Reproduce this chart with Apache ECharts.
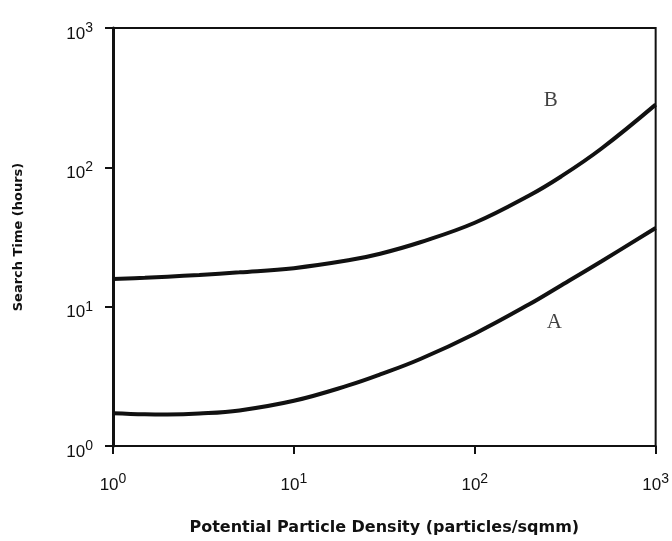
<!DOCTYPE html>
<html>
<head>
<meta charset="utf-8">
<script src="https://cdn.jsdelivr.net/npm/echarts@6/dist/echarts.min.js"></script>
<style>
  html, body { margin: 0; padding: 0; background: #fff; }
  #chart { width: 672px; height: 541px; }
</style>
</head>
<body>
<div id="chart"></div>
<script>
// particle density (particles/sqmm)
const density = [1, 1.5, 2, 3, 5, 10, 20, 30, 50, 100, 200, 300, 500, 1000];
// search time (hours)
const curveA = [1.72, 1.69, 1.685, 1.71, 1.8, 2.11, 2.72, 3.26, 4.21, 6.4, 10.4, 14.2, 21.1, 36.7];
const curveB = [15.8, 16.13, 16.42, 16.89, 17.64, 18.9, 21.5, 24.0, 29.0, 40, 62.8, 86, 136, 282];
// where the curve names sit, in data units
const curveNames = ["A", "B"];
const namePos = [[275, 7.7], [263, 300]];

const chart = echarts.init(document.getElementById("chart"));

const tickLabel = {
  formatter: function (v) {
    return "{b|10}{s|" + Math.round(Math.log10(v)) + "}";
  },
  rich: {
    b: { fontSize: 17, color: "#111", fontFamily: "Liberation Sans" },
    s: { fontSize: 14, color: "#111", fontFamily: "Liberation Sans", padding: [0, 0, 12, 0] },
  },
};

const pairs = (ys) => density.map((x, i) => [x, ys[i]]);

chart.setOption({
  animation: false,
  grid: {
    left: 113,
    top: 28,
    right: 15,
    bottom: 88,
    show: true,
    borderColor: "#111",
    borderWidth: 2,
  },
  xAxis: {
    type: "log",
    logBase: 10,
    min: 1,
    max: 1000,
    name: "Potential Particle Density (particles/sqmm)",
    nameLocation: "middle",
    nameGap: 74,
    nameTextStyle: { fontSize: 16, fontWeight: "bold", color: "#111", fontFamily: "DejaVu Sans" },
    axisLine: { lineStyle: { color: "#111", width: 2 } },
    axisTick: { inside: false, length: 8, lineStyle: { color: "#111", width: 2 } },
    minorTick: { show: false },
    splitLine: { show: false },
    axisLabel: Object.assign({ margin: 26 }, tickLabel),
  },
  yAxis: {
    type: "log",
    logBase: 10,
    min: 1,
    max: 1000,
    name: "Search Time (hours)",
    nameLocation: "middle",
    nameGap: 88,
    nameTextStyle: { fontSize: 13, fontWeight: "bold", color: "#111", fontFamily: "DejaVu Sans" },
    axisLine: { lineStyle: { color: "#111", width: 3 } },
    axisTick: { inside: false, length: 8, lineStyle: { color: "#111", width: 2 } },
    splitLine: { show: false },
    axisLabel: Object.assign({ margin: 20, padding: [12, 0, 0, 0] }, tickLabel),
  },
  series: [
    {
      name: "A",
      type: "line",
      smooth: 0.4,
      showSymbol: false,
      data: pairs(curveA),
      lineStyle: { color: "#111", width: 4 },
    },
    {
      name: "B",
      type: "line",
      smooth: 0.4,
      showSymbol: false,
      data: pairs(curveB),
      lineStyle: { color: "#111", width: 4 },
    },
    {
      type: "scatter",
      symbolSize: 0,
      data: namePos.map((p, i) => ({ value: p, name: curveNames[i] })),
      label: {
        show: true,
        position: "inside",
        formatter: "{b}",
        fontSize: 21,
        fontFamily: "Liberation Serif",
        color: "#111",
      },
    },
  ],
});
</script>
</body>
</html>
